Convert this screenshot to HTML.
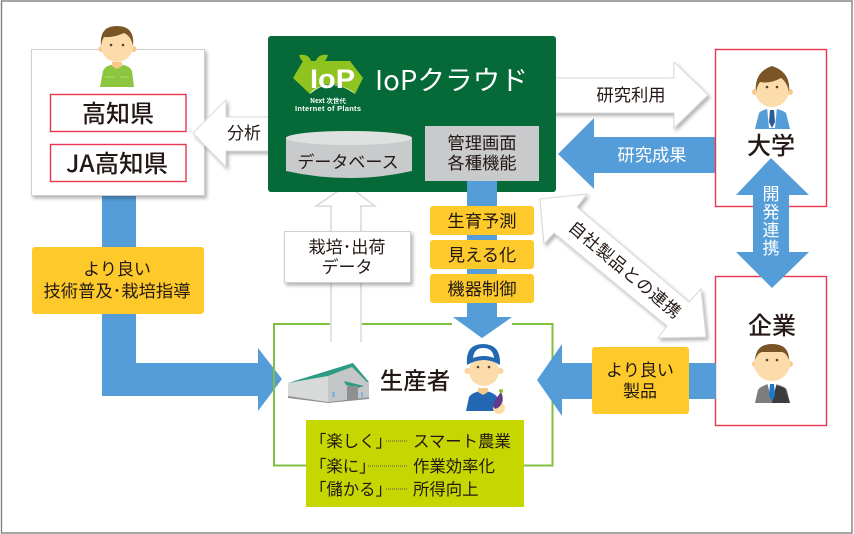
<!DOCTYPE html>
<html lang="ja"><head><meta charset="utf-8"><title>IoP</title>
<style>
html,body{margin:0;padding:0;background:#fff;width:854px;height:534px;overflow:hidden}
svg{display:block}
text{font-family:"Liberation Sans","Noto Sans CJK JP",sans-serif;fill:#231815}
.j{font-family:"Noto Sans CJK JP","Liberation Sans",sans-serif}
.m{text-anchor:middle}
.w{fill:#fff}
</style></head><body>
<svg width="854" height="534" viewBox="0 0 854 534" xmlns="http://www.w3.org/2000/svg">
<defs>
<filter id="s" x="-15%" y="-15%" width="135%" height="135%"><feDropShadow dx="2" dy="2.5" stdDeviation="1.8" flood-color="#000" flood-opacity=".3"/></filter>
</defs>
<rect x="1.5" y="1" width="850.5" height="532" fill="#fff" stroke="#808080" stroke-width="1.4"/>

<!-- blue L arrow -->
<polygon points="102,190 136,190 136,363 258,363 258,348 282,379 258,411 258,396 102,396" fill="#559dd8"/>
<!-- left box -->
<rect x="31.5" y="49.5" width="173" height="146" fill="#fff" stroke="#d0d0d0" filter="url(#s)"/>
<rect x="50.5" y="94.5" width="135.500" height="37" fill="#fff" stroke="#e8384f" stroke-width="1.4"/>
<rect x="50.5" y="144.500" width="135.500" height="37" fill="#fff" stroke="#e8384f" stroke-width="1.4"/>
<text class="j m" x="118" y="122" font-size="24" font-weight="500">高知県</text>
<text class="j m" x="117" y="172" font-size="24" font-weight="500" textLength="102" lengthAdjust="spacingAndGlyphs">JA高知県</text>
<!-- farmer -->
<g>
<path d="M100 87 L103 71 Q105 66 111 65 L117 63 L123 65 Q130 66 132 71 L134 87Z" fill="#8cc63f"/>
<path d="M112 62h10v4l-5 3-5-3z" fill="#f9c98a"/>
<path d="M105 77h9M120 77h9" stroke="#a9d468" stroke-width="1.500"/>
<circle cx="101.500" cy="49" r="3" fill="#f9c98a"/><circle cx="133.500" cy="49" r="3" fill="#f9c98a"/>
<circle cx="117" cy="46" r="16" fill="#fddcac"/>
<path d="M101 46 Q99 26 117 26 Q135 26 133 46 Q131 36 124 33 Q113 38 104 37 Q102 40 101 46Z" fill="#7a5526"/>
<circle cx="111" cy="45" r="1.300" fill="#5a4030"/><circle cx="123" cy="45" r="1.300" fill="#5a4030"/>
</g>

<!-- analysis arrow -->
<polygon points="193,133 226,100 226,117 270,117 270,151 226,151 226,167" fill="#fff" stroke="#dcdcdc" filter="url(#s)"/>
<text class="j m" x="244" y="139" font-size="17">分析</text>

<!-- up data arrow -->
<polygon points="347,185 375,206 361,206 361,342 331,342 331,206 316,206" fill="#fff"/>
<path d="M331 342 V206 H316 L347 185 L375 206 H361 V342" fill="none" stroke="#d8d8d8" stroke-width="1.500"/>

<!-- research use arrow -->
<polygon points="550,78 674,78 674,62 708,95 674,128 674,113 550,113" fill="#fff" stroke="#d8d8d8" filter="url(#s)"/>
<text class="j m" x="631" y="101" font-size="17.300">研究利用</text>

<!-- cloud -->
<rect x="268" y="36" width="288" height="156" rx="3" fill="#056a38"/>
<path d="M293 78 L303 61 H350 L363 78 L355 94 Q329 74 310 94Z" fill="#8fc31f"/>
<path d="M299 55 Q310 53 312 64 Q302 65 299 55Z" fill="#8fc31f"/>
<path d="M328 55 Q317 53 315 64 Q325 65 328 55Z" fill="#8fc31f"/>
<path d="M310 94 Q330 76 355 94 L352 91 Q330 78 312 91Z" fill="#fff"/>
<text x="310" y="88" font-size="27" font-weight="700" class="w" textLength="45" lengthAdjust="spacingAndGlyphs">IoP</text>
<text class="j m w" x="328" y="103" font-size="6.500" font-weight="700">Next 次世代</text>
<text class="m w" x="328" y="111" font-size="7.500" font-weight="700" textLength="66">Internet of Plants</text>
<text class="j w" x="375" y="90" font-size="27" textLength="153" lengthAdjust="spacingAndGlyphs">IoPクラウド</text>

<!-- database -->
<path d="M286 138 V171 Q349 185 412 171 V138Z" fill="#c9cacb"/>
<ellipse cx="349" cy="138" rx="63" ry="7" fill="#dfe0e0"/>
<text class="j m" x="348" y="168" font-size="17">データベース</text>
<!-- mgmt -->
<rect x="425" y="126" width="114" height="55" fill="#c9cacb"/>
<text class="j m" x="482" y="149" font-size="17.300">管理画面</text>
<text class="j m" x="482" y="169" font-size="17.300">各種機能</text>

<!-- center blue arrow -->
<polygon points="467,181 497,181 497,317 512,317 482,338 453,317 467,317" fill="#559dd8"/>
<!-- green box : drawn around arrows -->
<path d="M362 324 H452 M512 324 H552.500 V465.500 H524 M306 465.500 H274 V324 H330" fill="none" stroke="#7fc041" stroke-width="2"/>
<polygon points="453,317 512,317 482,338" fill="#559dd8"/>
<polygon points="467,300 497,300 497,320 467,320" fill="#559dd8"/>

<!-- yellow tags -->
<rect x="430" y="206" width="104" height="29" rx="3" fill="#fdc92b"/>
<rect x="430" y="240" width="104" height="29" rx="3" fill="#fdc92b"/>
<rect x="430" y="274" width="104" height="29" rx="3" fill="#fdc92b"/>
<text class="j m" x="482" y="227" font-size="17.300">生育予測</text>
<text class="j m" x="482" y="261" font-size="17.300">見える化</text>
<text class="j m" x="482" y="295" font-size="17.300">機器制御</text>

<!-- data label -->
<rect x="284.500" y="231.500" width="126" height="51" fill="#fff" stroke="#d0d0d0" filter="url(#s)"/>
<text class="j m" x="347" y="253" font-size="17" textLength="77" lengthAdjust="spacingAndGlyphs">栽培･出荷</text>
<text class="j m" x="347" y="273" font-size="17">データ</text>

<!-- yellow left -->
<rect x="32" y="247" width="172" height="67" rx="3" fill="#fdc92b"/>
<text class="j m" x="117" y="275" font-size="17">より良い</text>
<text class="j m" x="117" y="297" font-size="17" textLength="147" lengthAdjust="spacingAndGlyphs">技術普及･栽培指導</text>

<!-- research result -->
<polygon points="716,137 594,137 594,118 558,154 594,189 594,173 716,173" fill="#559dd8"/>
<text class="j m w" x="652" y="161" font-size="17.300">研究成果</text>

<!-- diag arrow -->
<polygon points="540,199 587,194 577,207 689,302 701,289 706,337 658,338 667,326 554,233 544,244" fill="#fff" stroke="#d8d8d8" filter="url(#s)"/>
<text class="j m" font-size="17" transform="translate(621,274) rotate(40)" textLength="140">自社製品との連携</text>

<!-- right boxes -->
<rect x="715.500" y="49.500" width="111" height="157" fill="#fff" stroke="#e8384f" stroke-width="1.400"/>
<rect x="715.500" y="276.500" width="111" height="149" fill="#fff" stroke="#e8384f" stroke-width="1.400"/>
<text class="j m" x="771" y="154" font-size="24" font-weight="500">大学</text>
<text class="j m" x="772" y="334" font-size="24" font-weight="500">企業</text>

<!-- professor -->
<g>
<path d="M755 129 L759 113 Q761 110 772 108 Q783 110 786 113 L790 129Z" fill="#559dd8"/>
<path d="M767 107 h10 l-2 21 h-6z" fill="#fff"/>
<path d="M770 110 h4 l1 12 -3 6 -3-6z" fill="#2a5c96"/>
<circle cx="755" cy="92" r="3" fill="#f9c98a"/><circle cx="790" cy="92" r="3" fill="#f9c98a"/>
<circle cx="772" cy="90" r="17" fill="#fddcac"/>
<path d="M756 92 Q754 72 772 66 Q791 72 789 92 Q787 82 781 78 Q770 84 760 82 Q757 86 756 92Z" fill="#7a5526"/>
<circle cx="767" cy="87" r="1.300" fill="#5a4030"/><circle cx="777" cy="87" r="1.300" fill="#5a4030"/>
</g>
<!-- businessman -->
<g>
<path d="M755 403 L758 390 Q760 386 772 383 Q785 386 787 390 L790 403Z" fill="#7d7d7d"/>
<path d="M772 384 L785 388 L790 403 H772Z" fill="#3c3c3c"/>
<path d="M767 382 h10 l-5 20z" fill="#fff"/>
<path d="M770 384 h4 l1 11 -3 7 -3-7z" fill="#1f78c8"/>
<circle cx="755" cy="364" r="3" fill="#f9c98a"/><circle cx="790" cy="364" r="3" fill="#f9c98a"/>
<circle cx="772" cy="363" r="18" fill="#fddcac"/>
<path d="M755 360 Q756 344 772 344 Q789 344 789 360 Q786 352 781 352 H763 Q758 352 755 360Z" fill="#7a5526"/>
<circle cx="767" cy="360" r="1.300" fill="#5a4030"/><circle cx="777" cy="360" r="1.300" fill="#5a4030"/>
</g>

<!-- dev link arrow -->
<polygon points="771,158 809,195 789,195 789,252 809,252 772,288 736,252 753,252 753,195 736,195" fill="#559dd8"/>
<g class="j" font-size="17">
<text class="j m w" x="771" y="200">開</text>
<text class="j m w" x="771" y="218">発</text>
<text class="j m w" x="771" y="236">連</text>
<text class="j m w" x="771" y="254">携</text>
</g>

<!-- lower right arrow -->
<polygon points="716,363 562,363 562,344 537,380 562,416 562,399 716,399" fill="#559dd8"/>
<rect x="592" y="347" width="97" height="67" rx="3" fill="#fdc92b"/>
<text class="j m" x="640" y="376" font-size="17">より良い</text>
<text class="j m" x="640" y="397" font-size="17">製品</text>

<!-- warehouse -->
<g>
<polygon points="288,383 328,376 328,402 288,396" fill="#d8dada"/>
<polygon points="328,376 352,367 369,383 369,397 328,402" fill="#c4c6c7"/>
<polygon points="288,383 353,363 369,382 367,382 352,367 328,376" fill="#2e9b86"/>
<polygon points="288,396 328,402 369,397 369,399 328,403 288,398" fill="#8f9192"/>
<polygon points="344,381 364,386 358,388 346,385" fill="#2e9b86"/>
<rect x="347" y="386" width="11" height="14" fill="#8d8f90"/>
<rect x="332" y="392" width="3" height="5" fill="#7fb4e0"/><rect x="361" y="392" width="2" height="5" fill="#7fb4e0"/>
</g>
<text class="j m" x="415" y="389" font-size="23.500" font-weight="500">生産者</text>

<!-- worker -->
<g>
<path d="M466 411 L469 397 Q471 393 483 390 Q495 393 497 397 L500 411Z" fill="#2468b4"/>
<path d="M478 388 h10 v4 l-5 3 -5-3z" fill="#f9c98a"/>
<circle cx="467.500" cy="371" r="3" fill="#fcd2a0"/><circle cx="500.500" cy="371" r="3" fill="#fcd2a0"/>
<circle cx="484" cy="371" r="15" fill="#fddcac"/>
<path d="M467 365 Q465 344 483 344 Q501 344 500 365 Q484 355 467 365Z" fill="#2468b4"/>
<path d="M473 358 Q474 348 483 348 Q493 348 494 358 Q484 354 473 358Z" fill="#fff"/>
<circle cx="478" cy="367" r="1.300" fill="#5a4030"/><circle cx="489" cy="367" r="1.300" fill="#5a4030"/>
<ellipse cx="499" cy="408" rx="6" ry="6" fill="#fddcac"/>
<path d="M501 392 Q505 400 500 406 Q496 410 494 408 Q492 406 495 400Z" fill="#5f3c8c"/>
<circle cx="501" cy="391" r="2" fill="#8fc31f"/>
</g>

<!-- lime box -->
<rect x="306" y="420" width="218" height="87" fill="#c5d600"/>
<g class="j" font-size="16.400">
<text class="j" x="310" y="447">「楽しく」</text>
<text class="j" x="310" y="472">「楽に」</text>
<text class="j" x="310" y="495">「儲かる」</text>
<text class="j" x="413" y="447">スマート農業</text>
<text class="j" x="413" y="472">作業効率化</text>
<text class="j" x="413" y="495">所得向上</text>
</g>
<path d="M386 441H408M368 466H408M386 489H408" stroke="#555" stroke-width="1" stroke-dasharray="1 1" fill="none"/>
</svg>
</body></html>
